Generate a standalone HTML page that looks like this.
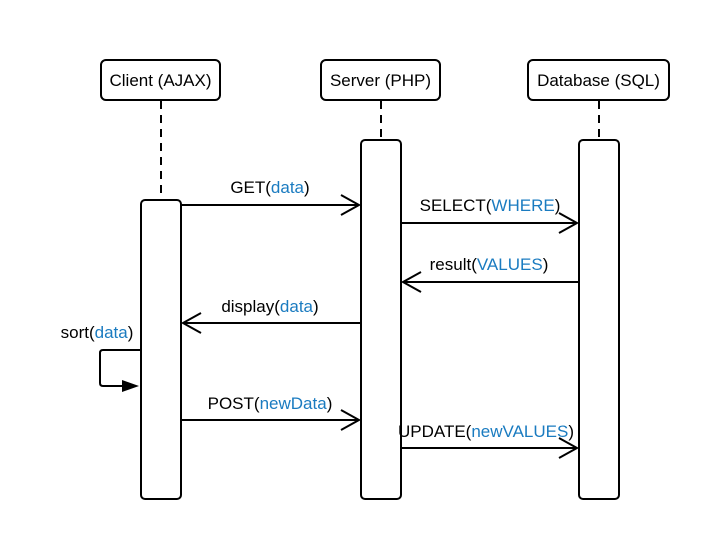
<!DOCTYPE html>
<html><head><meta charset="utf-8"><style>
html,body{margin:0;padding:0;background:#fff;}
svg{display:block;}
text{font-family:"Liberation Sans",sans-serif;font-size:17px;fill:#000;}
.b{fill:#1a7bc0;}
</style></head><body>
<svg width="710" height="540" viewBox="0 0 710 540">
<g fill="#fff" stroke="#000" stroke-width="2">
<rect x="101" y="60" width="119" height="40" rx="5"/>
<rect x="321" y="60" width="119" height="40" rx="5"/>
<rect x="528" y="60" width="141" height="40" rx="5"/>
</g>
<g stroke="#000" stroke-width="2" stroke-dasharray="8,6">
<line x1="161" y1="101" x2="161" y2="200"/>
<line x1="381" y1="101" x2="381" y2="140"/>
<line x1="599" y1="101" x2="599" y2="140"/>
</g>
<g fill="#fff" stroke="#000" stroke-width="2">
<rect x="141" y="200" width="40" height="299" rx="4"/>
<rect x="361" y="140" width="40" height="359" rx="4"/>
<rect x="579" y="140" width="40" height="359" rx="4"/>
</g>
<text x="160.5" y="86" text-anchor="middle">Client (AJAX)</text>
<text x="380.5" y="86" text-anchor="middle">Server (PHP)</text>
<text x="598.5" y="86" text-anchor="middle">Database (SQL)</text>
<g stroke="#000" stroke-width="2" fill="none">
<line x1="181" y1="205" x2="359" y2="205"/><polyline points="341,195 359,205 341,215"/>
<line x1="401" y1="223" x2="577" y2="223"/><polyline points="559,213 577,223 559,233"/>
<line x1="579" y1="282" x2="403" y2="282"/><polyline points="421,272 403,282 421,292"/>
<line x1="361" y1="323" x2="183" y2="323"/><polyline points="201,313 183,323 201,333"/>
<line x1="181" y1="420" x2="359" y2="420"/><polyline points="341,410 359,420 341,430"/>
<line x1="401" y1="448" x2="577" y2="448"/><polyline points="559,438 577,448 559,458"/>
<path d="M141,350 H103 Q100,350 100,353 V383 Q100,386 103,386 H125"/>
</g>
<polygon points="122,380 139,386 122,392" fill="#000"/>
<text x="270" y="193" text-anchor="middle">GET(<tspan class="b">data</tspan>)</text>
<text x="490" y="211" text-anchor="middle">SELECT(<tspan class="b">WHERE</tspan>)</text>
<text x="489" y="270" text-anchor="middle">result(<tspan class="b">VALUES</tspan>)</text>
<text x="270" y="312" text-anchor="middle">display(<tspan class="b">data</tspan>)</text>
<text x="97" y="338" text-anchor="middle">sort(<tspan class="b">data</tspan>)</text>
<text x="270" y="409" text-anchor="middle">POST(<tspan class="b">newData</tspan>)</text>
<text x="486" y="437" text-anchor="middle">UPDATE(<tspan class="b">newVALUES</tspan>)</text>
</svg>
</body></html>
